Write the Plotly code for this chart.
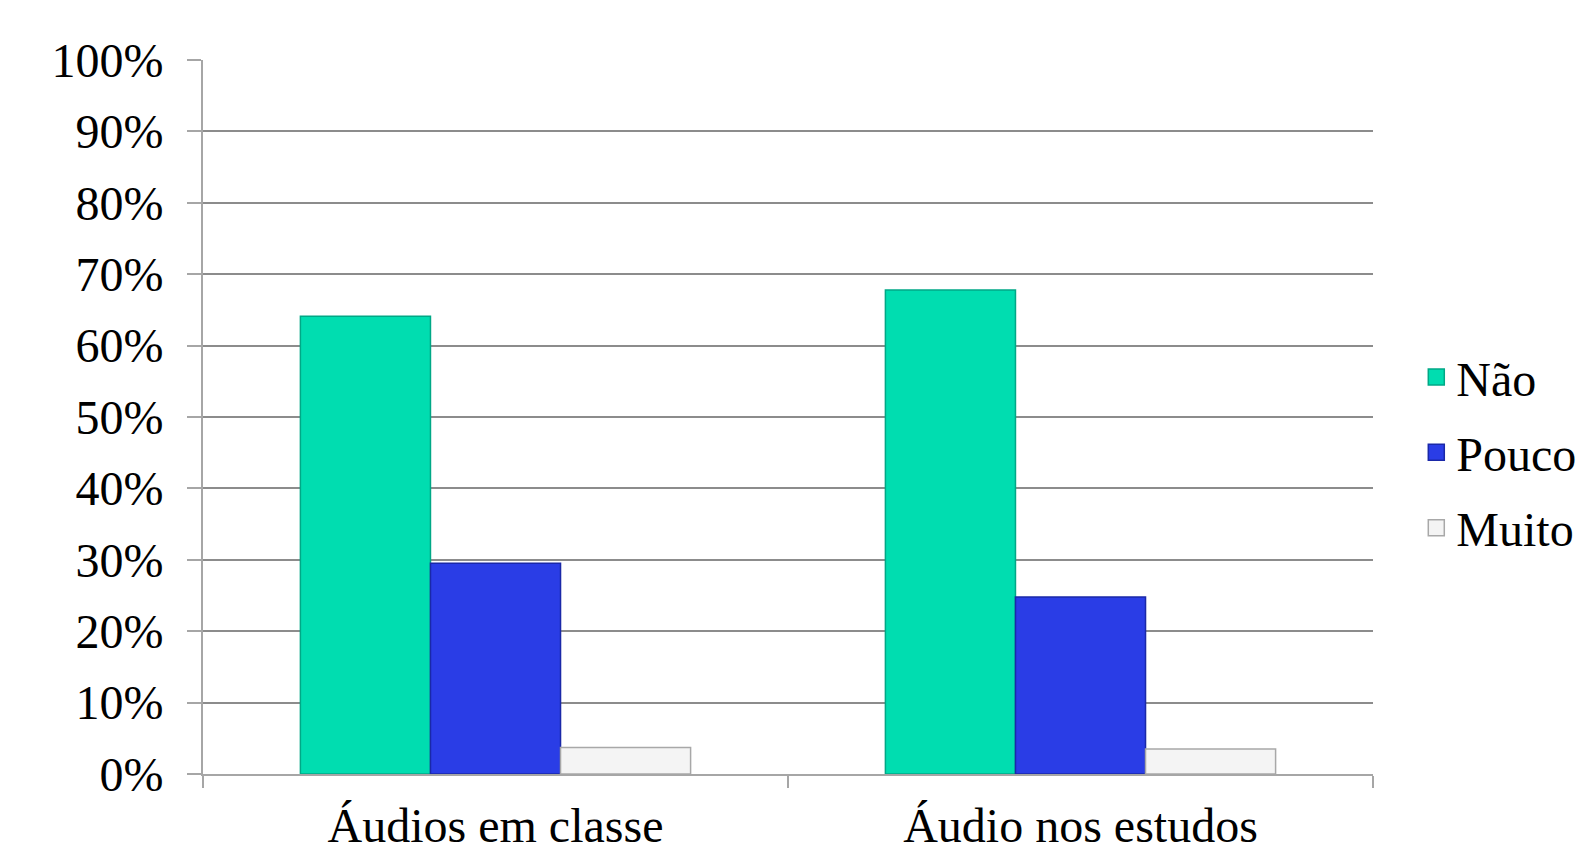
import plotly.graph_objects as go

categories = ["Áudios em classe", "Áudio nos estudos"]
nao = [64.1, 67.8]
pouco = [29.5, 24.8]
muito = [3.7, 3.5]

series = [
    ("Não", nao, "#00DDB0", "#00A886"),
    ("Pouco", pouco, "#2A3DE6", "#1A28A8"),
    ("Muito", muito, "#F4F4F4", "#A8A8A8"),
]

FONT = "Liberation Serif, Times New Roman, serif"

fig = go.Figure()
for name, vals, fill, edge in series:
    fig.add_trace(go.Bar(
        x=categories, y=vals, name=name,
        marker=dict(color=fill, line=dict(color=edge, width=1.5)),
        showlegend=False,
    ))
    # larger square swatch for the legend entry
    fig.add_trace(go.Scatter(
        x=[None], y=[None], mode="markers", name=name, legendgroup=name,
        marker=dict(symbol="square", size=22, color=fill,
                    line=dict(color=edge, width=1.5)),
    ))

fig.update_layout(
    width=1579, height=857,
    margin=dict(l=203, r=206, t=60, b=83, autoexpand=False),
    paper_bgcolor="white", plot_bgcolor="white",
    barmode="group", bargap=0.333, bargroupgap=0,
    font=dict(family=FONT, size=48, color="black"),
    legend=dict(x=1.037, xanchor="left", y=0.45, yanchor="middle",
                font=dict(size=48), itemsizing="trace",
                tracegroupgap=10, bgcolor="rgba(0,0,0,0)"),
    showlegend=True,
)
fig.update_xaxes(
    showline=True, linecolor="#A6A6A6", linewidth=2,
    ticks="outside", tickson="boundaries", ticklen=12, tickcolor="#A6A6A6",
    tickwidth=2, showgrid=False, tickfont=dict(size=48),
    ticklabelstandoff=8,
)
fig.update_yaxes(
    range=[0, 100], dtick=10, ticksuffix="%",
    showline=True, linecolor="#A6A6A6", linewidth=2,
    ticks="outside", ticklen=14, tickcolor="#A6A6A6", tickwidth=2,
    showgrid=True, gridcolor="#8C8C8C", gridwidth=1.5,
    zeroline=False, tickfont=dict(size=48), ticklabelstandoff=14,
)

fig.write_html("out.html")
